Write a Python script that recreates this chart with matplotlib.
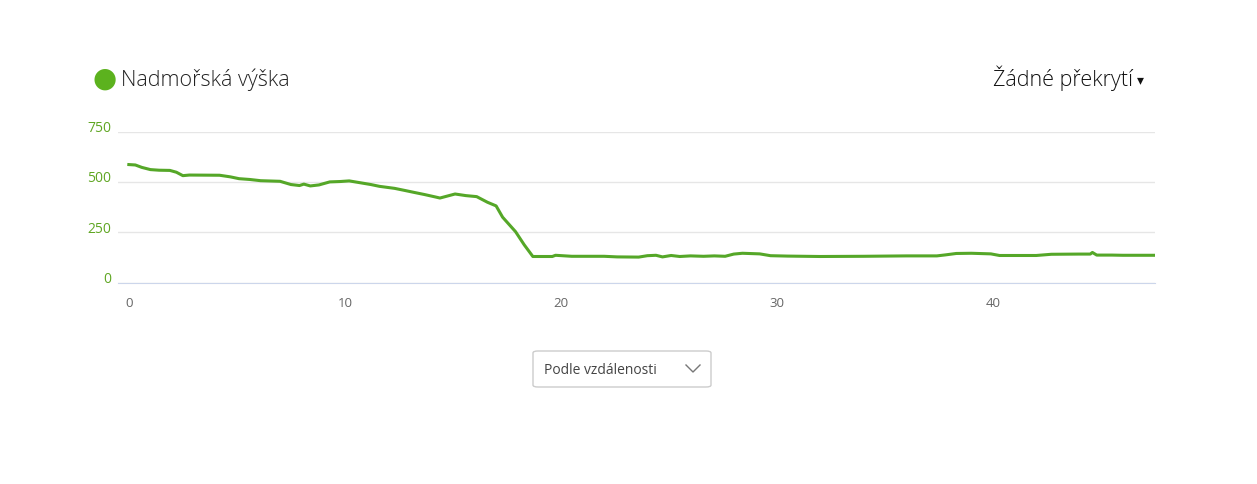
import matplotlib.pyplot as plt
from matplotlib.patches import FancyBboxPatch
from matplotlib.lines import Line2D
from matplotlib.transforms import ScaledTranslation

# Elevation profile (distance in km, elevation in m)
dist = [0, 0.3, 0.6, 1.0, 1.4, 1.9, 2.2, 2.5, 2.8, 4.2, 4.7, 5.1, 5.6, 6.1, 7.0,
        7.5, 7.9, 8.1, 8.4, 8.8, 9.3, 9.8, 10.2, 10.7, 11.2, 11.6, 12.3, 12.8,
        13.2, 13.7, 14.2, 14.4, 15.1, 15.6, 16.1, 16.6, 17.0, 17.3, 17.9, 18.3,
        18.7, 19.0, 19.6, 19.75, 20.5, 22.0, 22.6, 23.6, 24.0, 24.4, 24.7, 25.1,
        25.5, 26.0, 26.6, 27.1, 27.6, 28.0, 28.4, 29.2, 29.7, 30.5, 32.0, 34.0,
        36.0, 37.4, 37.8, 38.3, 39.0, 39.9, 40.3, 42.0, 42.7, 44.0, 44.5, 44.6,
        44.8, 45.5, 46.0, 47.5]
elev = [586, 584, 572, 561, 558, 557, 548, 531, 534, 533, 525, 516, 512, 506, 503,
        487, 482, 489, 480, 485, 500, 502, 505, 496, 487, 478, 468, 457,
        448, 437, 425, 420, 440, 432, 427, 399, 381, 325, 253, 188,
        130, 130, 130, 136, 131, 131, 128, 127, 134, 136, 128, 135,
        130, 133, 131, 133, 131, 142, 146, 143, 134, 132, 130, 131,
        133, 133, 138, 145, 146, 143, 135, 135, 141, 142, 142, 150,
        137, 137, 136, 136]

y_ticks = [0, 250, 500, 750]
x_ticks = [0, 10, 20, 30, 40]

green = '#55a728'
plt.rcParams['font.family'] = ['Open Sans', 'DejaVu Sans']

fig = plt.figure(figsize=(12.57, 4.84), dpi=100)
ax = fig.add_axes([0.0939, 0.4159, 0.825, 0.3124])

ax.plot(dist, elev, color=green, linewidth=2.2, solid_joinstyle='round')
ax.set_xlim(-0.5, 47.5)
ax.set_ylim(0, 750)
ax.set_yticks(y_ticks)
ax.set_xticks(x_ticks)
ax.grid(axis='y', color='#e6e6e6', linewidth=1)
ax.set_axisbelow(True)
for s in ['top', 'right', 'left']:
    ax.spines[s].set_visible(False)
ax.spines['bottom'].set_color('#ccd6eb')
ax.tick_params(axis='y', length=0, pad=5, labelcolor='#5fa622', labelsize=10)
ax.tick_params(axis='x', length=0, pad=10, labelcolor='#666666', labelsize=9.5)
for lab in ax.get_yticklabels():
    lab.set_transform(lab.get_transform() + ScaledTranslation(0, 5 / 100, fig.dpi_scale_trans))

# legend and overlay selector
fig.text(105 / 1257, 1 - 79 / 484, '\u25cf', color='#5cb21e', fontsize=20,
         ha='center', va='center', family='DejaVu Sans')
fig.text(121 / 1257, 1 - 80 / 484, 'Nadmořská výška', color='#222222',
         fontsize=15.5, ha='left', va='center', fontweight='light')
fig.text(1133 / 1257, 1 - 78 / 484, 'Žádné překrytí', color='#111111',
         fontsize=15.5, ha='right', va='center', fontweight='light')
fig.text(1140 / 1257, 1 - 80 / 484, '\u25be', color='#111111', fontsize=10,
         ha='center', va='center', family='DejaVu Sans')

# dropdown box
box = FancyBboxPatch((533 / 1257, 1 - 387 / 484), 178 / 1257, 36 / 484,
                     boxstyle='round,pad=0,rounding_size=0.004',
                     transform=fig.transFigure, facecolor='white',
                     edgecolor='#cccccc', linewidth=1)
fig.patches.append(box)
fig.text(544 / 1257, 1 - 370 / 484, 'Podle vzdálenosti', color='#444444',
         fontsize=10, ha='left', va='center')
chev = Line2D([686 / 1257, 693 / 1257, 700 / 1257],
              [1 - 365 / 484, 1 - 372 / 484, 1 - 365 / 484],
              transform=fig.transFigure, color='#777777', linewidth=1)
fig.lines.append(chev)

fig.savefig('out.png', dpi=100)
